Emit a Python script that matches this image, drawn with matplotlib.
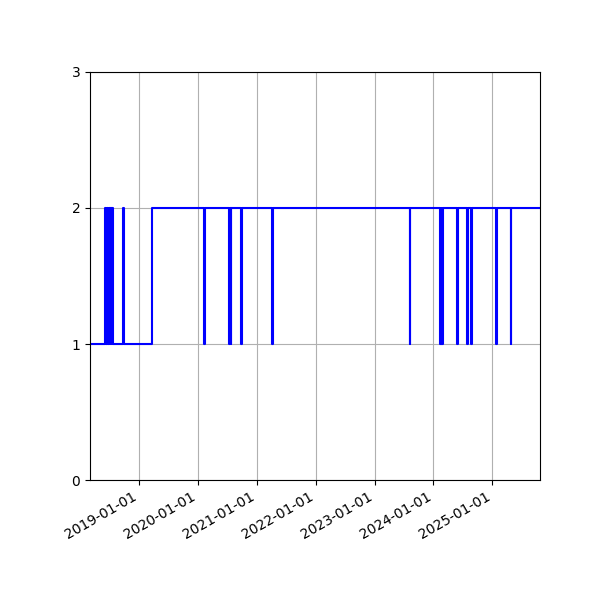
import numpy as np
import pandas as pd
import matplotlib
matplotlib.use("Agg")
import matplotlib.pyplot as plt
import matplotlib.dates as mdates

# change points of the step series (date, new value)
change_dates = [
    "2018-03-01",
    "2018-06-02", "2018-06-09", "2018-06-12", "2018-06-21", "2018-06-24",
    "2018-07-02", "2018-07-05", "2018-07-13", "2018-07-16", "2018-07-22",
    "2018-09-22", "2018-09-28",
    "2019-03-18",
    "2020-02-06", "2020-02-10",
    "2020-07-12", "2020-07-15", "2020-07-22", "2020-07-25",
    "2020-09-24", "2020-09-27",
    "2021-04-07", "2021-04-10",
    "2023-08-07", "2023-08-10",
    "2024-02-11", "2024-02-15", "2024-02-18", "2024-02-22", "2024-02-26", "2024-03-02",
    "2024-05-27", "2024-05-30",
    "2024-07-28", "2024-07-31",
    "2024-08-22", "2024-08-25",
    "2025-01-26", "2025-01-29",
    "2025-04-25", "2025-04-28",
    "2025-10-24",
]
change_values = [
    1,
    2, 1, 2, 1, 2,
    1, 2, 1, 2, 1,
    2, 1,
    2,
    1, 2,
    1, 2, 1, 2,
    1, 2,
    1, 2,
    1, 2,
    1, 2, 1, 2, 1, 2,
    1, 2,
    1, 2,
    1, 2,
    1, 2,
    1, 2,
    2,
]

dates = pd.to_datetime(change_dates)

fig = plt.figure(figsize=(6, 6), dpi=100)
ax = fig.add_axes([0.15, 0.2, 0.75, 0.68])
ax.plot(dates, change_values, color="blue", drawstyle="steps-post", linewidth=1.5)

ax.set_xlim(dates[0], dates[-1])
ax.set_ylim(0, 3)
ax.set_yticks([0, 1, 2, 3])
ax.xaxis.set_major_locator(mdates.YearLocator())
ax.xaxis.set_major_formatter(mdates.DateFormatter("%Y-%m-%d"))
ax.grid(True)
for lbl in ax.get_xticklabels():
    lbl.set_rotation(30)
    lbl.set_ha("right")

fig.savefig("out.png")
